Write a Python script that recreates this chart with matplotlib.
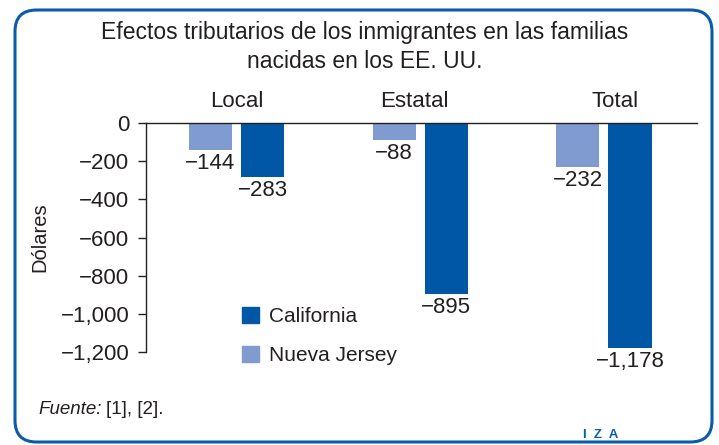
import matplotlib
matplotlib.use("Agg")
import matplotlib.pyplot as plt
from matplotlib.patches import FancyBboxPatch, Patch
import numpy as np

categories = ["Local", "Estatal", "Total"]
california = [-283, -895, -1178]
nueva_jersey = [-144, -88, -232]
yticks = [0, -200, -400, -600, -800, -1000, -1200]
ytick_labels = ["0", "\u2212200", "\u2212400", "\u2212600", "\u2212800", "\u22121,000", "\u22121,200"]

plt.rcParams['font.family'] = ['Liberation Sans', 'DejaVu Sans']
C_CA = '#0057A6'
C_NJ = '#7F9BCF'
TXT = '#231F20'
BLUE = '#0A5CAB'

fig = plt.figure(figsize=(7.19, 4.45), dpi=100)
W, H = 719, 445

# rounded border
box = FancyBboxPatch((15/W, 3/H), 697/W, 432/H,
                     boxstyle="round,pad=0,rounding_size=0.03",
                     transform=fig.transFigure, fill=False,
                     edgecolor=BLUE, linewidth=2.2, mutation_aspect=W/H)
fig.patches.append(box)

ax = fig.add_axes([146/W, (H-352)/H, (697-146)/W, (352-123)/H])
x = np.arange(len(categories))
w = 0.235
off = 0.142
ax.bar(x - off, nueva_jersey, w, color=C_NJ, label="Nueva Jersey")
ax.bar(x + off, california, w, color=C_CA, label="California")

def fmt(v):
    return "\u2212" + f"{abs(v):,}"

for xi, v in zip(x - off, nueva_jersey):
    ax.annotate(fmt(v), (xi, v), xytext=(0, -2), textcoords='offset points',
                ha='center', va='top', fontsize=16, color=TXT)
for xi, v in zip(x + off, california):
    ax.annotate(fmt(v), (xi, v), xytext=(0, -2), textcoords='offset points',
                ha='center', va='top', fontsize=16, color=TXT)

ax.set_xlim(-0.493, 2.507)
ax.set_ylim(-1200, 0)
ax.set_yticks(yticks)
ax.set_yticklabels(ytick_labels, fontsize=16, color=TXT)
ax.set_xticks([])
for s in ['right', 'bottom']:
    ax.spines[s].set_visible(False)
ax.spines['left'].set_color(TXT)
ax.spines['top'].set_color(TXT)
ax.spines['left'].set_linewidth(1)
ax.spines['top'].set_linewidth(1)
ax.tick_params(axis='y', length=6, width=1, color=TXT, pad=6)
ax.set_ylabel("Dólares", fontsize=14.5, color=TXT, labelpad=8)

cat_shift = [0, -0.03, 0.06]
for xi, c, d in zip(x, categories, cat_shift):
    ax.text(xi + d, 1.05, c, transform=ax.get_xaxis_transform(),
            ha='center', va='bottom', fontsize=16, color=TXT)

handles = [Patch(color=C_CA), Patch(color=C_NJ)]
leg = ax.legend(handles, ["California", "Nueva Jersey"], loc='lower left',
                bbox_to_anchor=(0.16, -0.095), frameon=False, fontsize=15,
                handlelength=0.8, handleheight=0.8, handletextpad=0.45,
                labelspacing=0.95, borderaxespad=0)
for t in leg.get_texts():
    t.set_color(TXT)

fig.text(365/W, 1 - 33/H, "Efectos tributarios de los inmigrantes en las familias",
         ha='center', va='center', fontsize=16.5, color=TXT)
fig.text(365/W, 1 - 62/H, "nacidas en los EE. UU.",
         ha='center', va='center', fontsize=16.5, color=TXT)

t1 = fig.text(38/W, 1 - 410/H, "Fuente:", ha='left', va='center', fontsize=13.5,
              style='italic', color=TXT)
ax.annotate("[1], [2].", xy=(1, 0.5), xycoords=t1, xytext=(3, 0),
            textcoords='offset points', ha='left', va='center',
            fontsize=13.5, color=TXT, annotation_clip=False)

fig.text(583/W, 1 - 435/H, "I  Z  A", ha='left', va='center', fontsize=9.5,
         fontweight='bold', color=BLUE)

fig.savefig("out.png", dpi=100)
